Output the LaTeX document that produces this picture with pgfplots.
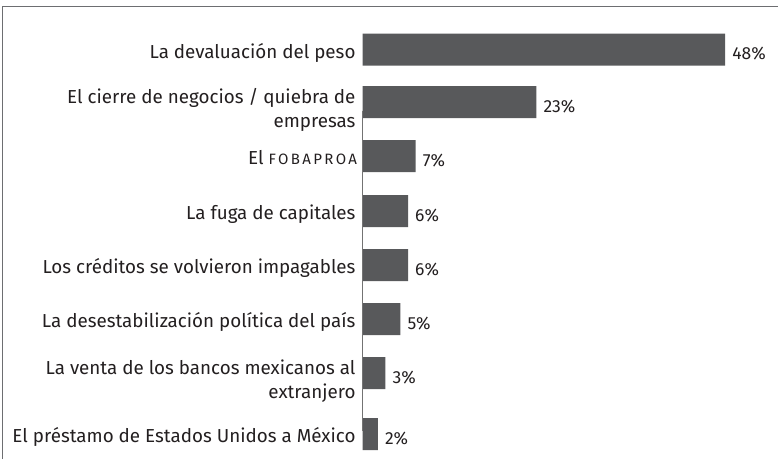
\documentclass[border=0pt]{standalone}
\usepackage{fontspec}
\setmainfont{Fira Sans}
\usepackage{pgfplots}
\pgfplotsset{compat=1.18}
\definecolor{barc}{HTML}{58595B}
\definecolor{txt}{HTML}{231F20}
\definecolor{framec}{HTML}{6D6E71}
\begin{document}
\begin{tikzpicture}
\useasboundingbox (0pt,0pt) rectangle (778pt,-459pt);
\draw[framec, line width=1pt] (2.7pt,-459pt) -- (2.7pt,-6.7pt) -- (778pt,-6.7pt);
\begin{axis}[
  at={(362.7pt,0pt)}, anchor=origin,
  x=7.55pt, y=1pt, y dir=reverse,
  xmin=0, xmax=55, ymin=0, ymax=459,
  axis line style={draw=none},
  major tick length=0pt,
  xtick=\empty,
  /pgf/number format/assume math mode=true,
  ytick={49.5,156,211,265,319,434},
  yticklabels={La devaluación del peso, El {\fontsize{15}{16}\selectfont\addfontfeature{LetterSpace=16}FOBAPROA\kern-1.5pt}, La fuga de capitales, Los créditos se volvieron impagables, La desestabilización política del país, El préstamo de Estados Unidos a México},
  extra y ticks={102,373},
  extra y tick labels={{El cierre de negocios / quiebra de\\empresas},{La venta de los bancos mexicanos al\\extranjero}},
  yticklabel style={anchor=base east, inner sep=0pt, xshift=-7pt, yshift=-8.5pt, text=txt, font=\fontsize{18.8}{24}\selectfont, align=right},
  extra y tick style={yticklabel style={yshift=-16.5pt}},
  clip=false,
  xbar, bar width=32pt,
  nodes near coords={\pgfmathprintnumber{\pgfplotspointmeta}\%},
  nodes near coords style={anchor=west, inner sep=0pt, xshift=7pt, yshift=-4.5pt, text=txt, font=\fontsize{17.5}{19}\selectfont},
]
\addplot[fill=barc, draw=none] coordinates {(48,49.5) (23,102) (7,156) (6,211) (6,265) (5,319) (3,373) (2,434)};
\draw[color=black!55, line width=0.9pt] (axis cs:0,110.7) -- (axis cs:0,430.7);
\end{axis}
\end{tikzpicture}
\end{document}
